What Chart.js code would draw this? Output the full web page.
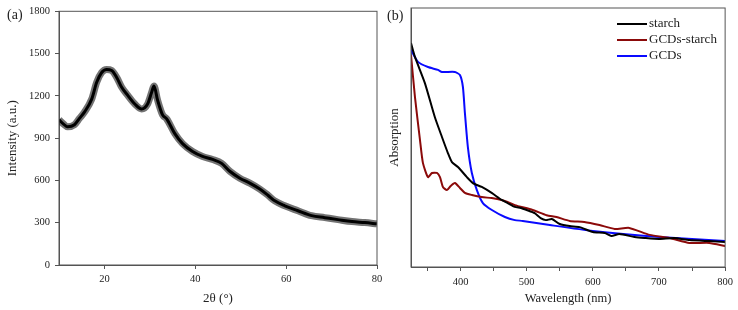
<!DOCTYPE html>
<html>
<head>
<meta charset="utf-8">
<script src="https://cdn.jsdelivr.net/npm/chart.js@4.4.0/dist/chart.umd.min.js"></script>
<style>
  body { margin: 0; background: #fff; }
  #wrap { position: relative; width: 738px; height: 310px; overflow: hidden; font-family: "Liberation Serif", serif; color: #222; }
  canvas { position: absolute; top: 0; }
  #chartA { left: 0; }
  #chartB { left: 380px; }
  .panel { position: absolute; font-size: 14px; }
  #legend { position: absolute; left: 617px; top: 15px; font-size: 13px; }
  .item { height: 16px; line-height: 16px; white-space: nowrap; }
  .swatch { display: inline-block; width: 30px; height: 2px; vertical-align: middle; margin-right: 2px; }
</style>
</head>
<body>
<div id="wrap">
  <canvas id="chartA" width="400" height="310"></canvas>
  <canvas id="chartB" width="358" height="310"></canvas>
  <div class="panel" style="left:7px;top:7px;">(a)</div>
  <div class="panel" style="left:387px;top:8px;">(b)</div>
  <div id="legend"></div>
</div>
<script>
// (a) XRD pattern
const xrdAngle = [10, 11, 11.9, 13.4, 14.5, 15.6, 17.2, 18.3, 19.4, 20.5, 21.6, 22.7, 23.8, 25.1, 26.7, 28.2, 29.5, 30.4, 30.9, 31.7, 32.8, 33.7, 35.5, 37.2, 39.4, 41.6, 43.8, 45.8, 47.6, 49.8, 52.0, 54.2, 56.0, 57.5, 59.7, 62.6, 65.6, 68.5, 71.4, 74.5, 77.3, 80];
const xrdIntensity = [1030, 1000, 980, 995, 1040, 1085, 1177, 1296, 1366, 1387, 1380, 1331, 1261, 1205, 1142, 1107, 1142, 1226, 1270, 1170, 1065, 1037, 932, 861, 805, 770, 749, 721, 665, 616, 581, 539, 495, 455, 420, 385, 350, 336, 322, 308, 301, 292];
const xrdTicks = [20, 40, 60, 80];

// (b) UV-vis absorption
const seriesNames = ['starch', 'GCDs-starch', 'GCDs'];
const seriesColors = ['#000000', '#8b0a0a', '#0a0aff'];
const starchWl = [325, 331, 346, 361, 371.8, 380.8, 386.9, 396, 409.5, 418.6, 432, 447, 462, 471, 482, 491, 500, 512, 521, 529, 538, 550, 565, 580, 600, 618, 628, 640, 663, 678, 700, 723, 746, 776, 800];
const starchAbs = [0.865, 0.811, 0.71, 0.579, 0.502, 0.44, 0.405, 0.386, 0.347, 0.324, 0.309, 0.286, 0.259, 0.247, 0.232, 0.228, 0.22, 0.208, 0.189, 0.181, 0.185, 0.166, 0.158, 0.154, 0.135, 0.131, 0.12, 0.127, 0.116, 0.112, 0.108, 0.112, 0.104, 0.1, 0.097];
const gcdStarchWl = [325, 331, 338.6, 343, 350.7, 356.7, 364.2, 368.8, 373.3, 379.3, 385, 391.4, 399, 406.5, 417, 432, 447, 462, 471, 482, 509, 530, 545, 565, 587, 610, 633, 655, 686, 716, 746, 776, 800];
const gcdStarchAbs = [0.819, 0.656, 0.49, 0.402, 0.347, 0.363, 0.363, 0.347, 0.309, 0.297, 0.313, 0.324, 0.305, 0.286, 0.278, 0.27, 0.266, 0.259, 0.251, 0.239, 0.22, 0.2, 0.193, 0.178, 0.174, 0.162, 0.147, 0.151, 0.124, 0.112, 0.093, 0.093, 0.081];
const gcdWl = [325, 335.6, 350.7, 365.8, 371.8, 391.4, 399, 403.5, 406.5, 411, 417, 424.6, 433.7, 447.3, 467, 482, 494, 535, 600, 700, 800];
const gcdAbs = [0.838, 0.792, 0.772, 0.761, 0.753, 0.753, 0.741, 0.695, 0.595, 0.463, 0.363, 0.297, 0.247, 0.22, 0.193, 0.181, 0.178, 0.162, 0.139, 0.116, 0.1];
const wlTicks = [350, 400, 450, 500, 550, 600, 650, 700, 750, 800];

const serif = 'Liberation Serif';
const axisColor = '#555';

const framePlugin = {
    id: 'frame',
    afterDraw(chart) {
        const { ctx, chartArea: a } = chart;
        ctx.save();
        ctx.strokeStyle = axisColor;
        ctx.lineWidth = 1;
        ctx.strokeRect(a.left, a.top, a.right - a.left, a.bottom - a.top);
        ctx.restore();
    }
};

const toPoints = (xs, ys) => xs.map((x, i) => ({ x: x, y: ys[i] }));

// panel (a)
new Chart(document.getElementById('chartA'), {
    type: 'line',
    data: {
        datasets: [
            {
                data: toPoints(xrdAngle, xrdIntensity),
                borderColor: 'rgba(0,0,0,0.55)',
                borderWidth: 7,
                pointRadius: 0,
                cubicInterpolationMode: 'monotone'
            },
            {
                data: toPoints(xrdAngle, xrdIntensity),
                borderColor: '#000',
                borderWidth: 3,
                pointRadius: 0,
                cubicInterpolationMode: 'monotone'
            }
        ]
    },
    options: {
        responsive: false,
        animation: false,
        devicePixelRatio: 1,
        layout: { padding: { top: 8, right: 23, bottom: 0, left: 0 } },
        plugins: { legend: { display: false }, tooltip: { enabled: false } },
        scales: {
            x: {
                type: 'linear',
                min: 10,
                max: 80,
                afterBuildTicks: (scale) => { scale.ticks = xrdTicks.map(v => ({ value: v })); },
                afterFit: (scale) => { scale.height = 45; },
                grid: { drawOnChartArea: false, tickLength: 4, color: axisColor },
                border: { color: axisColor },
                ticks: { padding: 4, color: '#222', font: { family: serif, size: 10.5 }, maxRotation: 0 },
                title: { display: true, text: '2θ (°)', color: '#222', font: { family: serif, size: 13 }, padding: 4 }
            },
            y: {
                min: 0,
                max: 1800,
                afterFit: (scale) => { scale.width = 59; },
                grid: { drawOnChartArea: false, tickLength: 4, color: axisColor },
                border: { color: axisColor },
                ticks: { stepSize: 300, padding: 5, color: '#222', font: { family: serif, size: 10.5 }, callback: (v) => String(v) },
                title: { display: true, text: 'Intensity (a.u.)', color: '#222', font: { family: serif, size: 13 }, padding: 5 }
            }
        }
    },
    plugins: [framePlugin]
});

// panel (b)
const absData = [[starchWl, starchAbs], [gcdStarchWl, gcdStarchAbs], [gcdWl, gcdAbs]];
new Chart(document.getElementById('chartB'), {
    type: 'line',
    data: {
        datasets: absData.map((d, i) => ({
            label: seriesNames[i],
            data: toPoints(d[0], d[1]),
            borderColor: seriesColors[i],
            borderWidth: 2,
            pointRadius: 0,
            tension: 0.2
        }))
    },
    options: {
        responsive: false,
        animation: false,
        devicePixelRatio: 1,
        layout: { padding: { top: 8, right: 12, bottom: 0, left: 0 } },
        plugins: { legend: { display: false }, tooltip: { enabled: false } },
        scales: {
            x: {
                type: 'linear',
                min: 325,
                max: 800,
                afterBuildTicks: (scale) => { scale.ticks = wlTicks.map(v => ({ value: v })); },
                afterFit: (scale) => { scale.height = 43; },
                grid: { drawOnChartArea: false, tickLength: 4, color: axisColor },
                border: { color: axisColor },
                ticks: {
                    padding: 5, color: '#222', font: { family: serif, size: 10.5 }, maxRotation: 0, autoSkip: false,
                    callback: (v) => (v % 100 === 0 ? String(v) : '')
                },
                title: { display: true, text: 'Wavelength (nm)', color: '#222', font: { family: serif, size: 12.5 }, padding: 4 }
            },
            y: {
                min: 0,
                max: 1,
                afterFit: (scale) => { scale.width = 31; },
                grid: { display: false },
                border: { color: axisColor },
                ticks: { display: false },
                title: { display: true, text: 'Absorption', color: '#222', font: { family: serif, size: 13 }, padding: 7 }
            }
        }
    },
    plugins: [framePlugin]
});

// legend
const legend = document.getElementById('legend');
seriesNames.forEach((name, i) => {
    const item = document.createElement('div');
    item.className = 'item';
    item.innerHTML = '<span class="swatch" style="background:' + seriesColors[i] + '"></span>' + name;
    legend.appendChild(item);
});
</script>
</body>
</html>
